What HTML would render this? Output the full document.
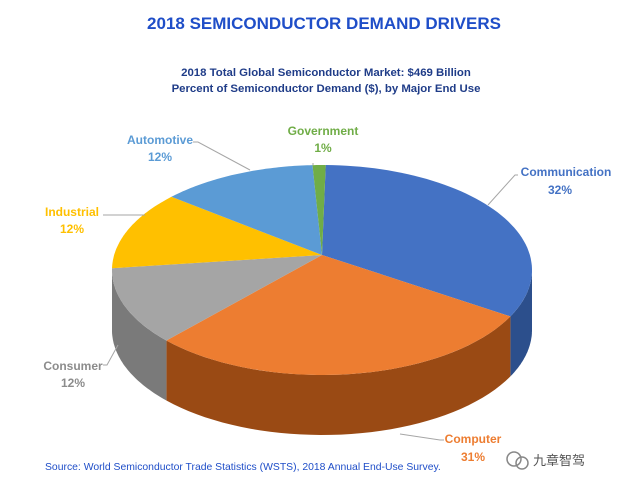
<!DOCTYPE html>
<html><head><meta charset="utf-8"><style>
body{margin:0;background:#fff;width:622px;height:484px;overflow:hidden;font-family:"Liberation Sans","Noto Sans CJK SC",sans-serif}
</style></head><body>
<svg width="622" height="484" id="chart">
<text x="324" y="29" text-anchor="middle" font-size="17" font-weight="bold" fill="#1f4ec8">2018 SEMICONDUCTOR DEMAND DRIVERS</text>
<text x="326" y="76" text-anchor="middle" font-size="11.4" font-weight="bold" fill="#1f3c88">2018 Total Global Semiconductor Market: $469 Billion</text>
<text x="326" y="92" text-anchor="middle" font-size="11.4" font-weight="bold" fill="#1f3c88">Percent of Semiconductor Demand ($), by Major End Use</text>
<g id="slices"></g>
<g id="labels" font-size="12" font-weight="bold"></g>
<text x="45" y="470" font-size="10.4" fill="#1f4ec8">Source: World Semiconductor Trade Statistics (WSTS), 2018 Annual End-Use Survey.</text>
<g>
<circle cx="514" cy="459" r="7" fill="none" stroke="#888" stroke-width="1.5"/>
<circle cx="522" cy="463" r="6" fill="none" stroke="#888" stroke-width="1.5"/>
<text x="533" y="465" font-size="13" fill="#555" font-family="'Liberation Sans','Noto Sans CJK SC',sans-serif">九章智驾</text>
</g>
</svg>
<script>
const categories=["Communication","Computer","Consumer","Industrial","Automotive","Government"];
const values=[32,31,12,12,12,1];
const topColors=["#4472c4","#ed7d31","#a5a5a5","#ffc000","#5b9bd5","#70ad47"];
const sideColors=["#2c4f8c","#9a4a14","#7a7a7a","#b38600","#3f72a0","#4e7a31"];
const labelPos=[[566,176,560,194,"#4472c4",[[488,205],[515,175],[518,175]]],[473,443,473,461,"#ed7d31",[[400,434],[440,440],[444,440]]],[73,370,73,387,"#8c8c8c",[[118,345],[107,365],[103,365]]],[72,216,72,233,"#ffc000",[[145,215],[103,215]]],[160,144,160,161,"#5b9bd5",[[250,170],[198,142],[193,142]]],[323,135,323,152,"#70ad47",[[313,165],[313,163]]]];
const cx=322,cy=270,rx=210,ry=105,depth=60,apx=322,apy=255,start=1;
const NS="http://www.w3.org/2000/svg";
const g=document.getElementById('slices'),lg=document.getElementById('labels');
function pt(t,d){const r=t*Math.PI/180;return [cx+rx*Math.sin(r),cy-ry*Math.cos(r)+(d||0)];}
const total=values.reduce((a,b)=>a+b,0);
let acc=start;const ranges=values.map(v=>{const a=acc;acc+=v/total*360;return [a,acc];});
ranges.forEach((r,i)=>{
 const a=Math.max(r[0],90),b=Math.min(r[1],270);
 if(b<=a)return;
 let d="";const n=40;
 for(let k=0;k<=n;k++){const p=pt(a+(b-a)*k/n);d+=(k?"L":"M")+p[0].toFixed(1)+","+p[1].toFixed(1);}
 for(let k=n;k>=0;k--){const p=pt(a+(b-a)*k/n,depth);d+="L"+p[0].toFixed(1)+","+p[1].toFixed(1);}
 const el=document.createElementNS(NS,'path');el.setAttribute('d',d+"Z");el.setAttribute('fill',sideColors[i]);
 
 
 g.appendChild(el);
});
ranges.forEach((r,i)=>{
 let d="M"+apx+","+apy;const n=60;
 for(let k=0;k<=n;k++){const p=pt(r[0]+(r[1]-r[0])*k/n);d+="L"+p[0].toFixed(1)+","+p[1].toFixed(1);}
 const el=document.createElementNS(NS,'path');el.setAttribute('d',d+"Z");el.setAttribute('fill',topColors[i]);
 
 
 g.appendChild(el);
});
labelPos.forEach((L,i)=>{
 const pl=document.createElementNS(NS,'polyline');pl.setAttribute('points',L[5].map(p=>p.join(',')).join(' '));
 pl.setAttribute('fill','none');pl.setAttribute('stroke','#a6a6a6');pl.setAttribute('stroke-width','1');
 
 
 lg.appendChild(pl);
 const t=document.createElementNS(NS,'text');t.setAttribute('x',L[0]);t.setAttribute('y',L[1]);t.setAttribute('text-anchor','middle');t.setAttribute('fill',L[4]);t.textContent=categories[i];
 
 
 lg.appendChild(t);
 const t2=document.createElementNS(NS,'text');t2.setAttribute('x',L[2]);t2.setAttribute('y',L[3]);t2.setAttribute('text-anchor','middle');t2.setAttribute('fill',L[4]);t2.textContent=values[i]+"%";
 
 
 lg.appendChild(t2);
});
</script>
</body></html>
